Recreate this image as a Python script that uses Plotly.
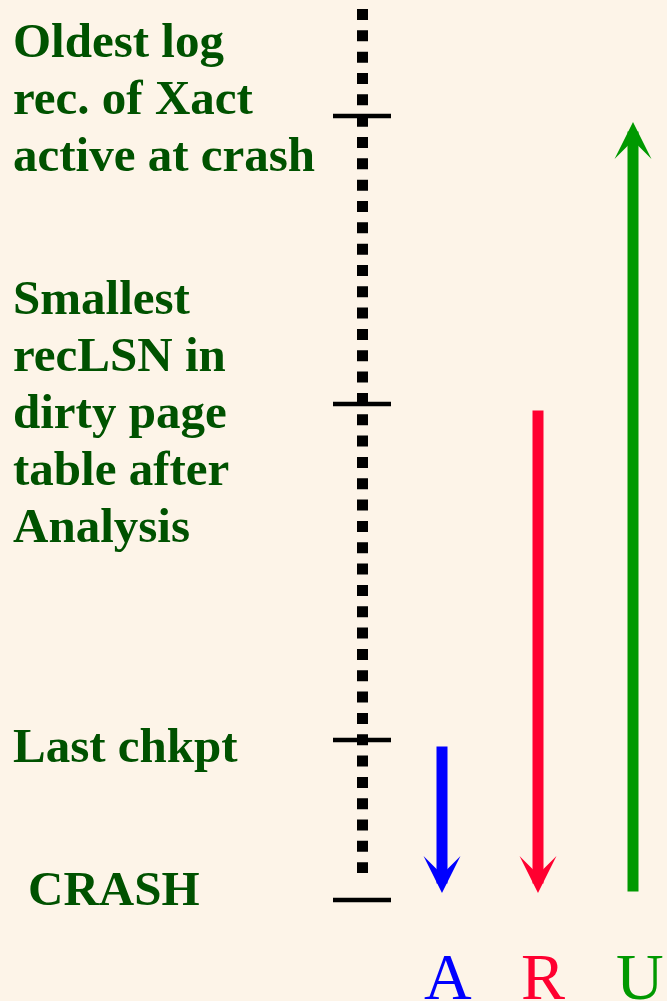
import plotly.graph_objects as go

# ---------------- data ----------------
level_names = ["Oldest log rec. of Xact active at crash",
               "Smallest recLSN in dirty page table after Analysis",
               "Last chkpt",
               "CRASH"]
level_pos = [116, 404, 740, 900]          # position on the log axis
label_lines = [["Oldest log", "rec. of Xact", "active at crash"],
               ["Smallest", "recLSN in", "dirty page", "table after", "Analysis"],
               ["Last chkpt"],
               ["CRASH"]]
label_first_baseline = [57, 314, 762, 905]
label_left = [11, 11, 11, 26]

log_start = 9
log_end = 873

phases = ["A", "R", "U"]
phase_x = [442, 538, 633]
phase_from = [745, 409, 893]
phase_to = [893, 893, 122]
phase_colors = ["#0000ff", "#ff0030", "#009900"]
phase_label_x = [448, 543, 640]

# ---------------- figure ----------------
W, H = 667, 1001
BG = "#fdf4e8"
TXT = "#005200"
FONT = "Liberation Serif"
SIZE = 49
LINE = 57

fig = go.Figure()

# dotted log line
fig.add_trace(go.Scatter(
    x=[362.5, 362.5], y=[log_start, log_end], mode="lines",
    line=dict(color="black", width=11, dash="11px,10.33px"),
    hoverinfo="skip", showlegend=False))

# tick marks at the log levels
tx, ty = [], []
for p in level_pos:
    tx += [333, 391, None]
    ty += [p, p, None]
fig.add_trace(go.Scatter(
    x=tx, y=ty, mode="lines", line=dict(color="black", width=4.5),
    hoverinfo="skip", showlegend=False))

annotations = []
# level labels
for lines, b0, xl in zip(label_lines, label_first_baseline, label_left):
    for i, t in enumerate(lines):
        base = b0 + i * LINE
        annotations.append(dict(
            x=xl, y=base - 0.3375 * SIZE, xref="x", yref="y",
            text="<b>%s</b>" % t, showarrow=False, xanchor="left", yanchor="middle",
            font=dict(family=FONT, size=SIZE, color=TXT)))

# phase arrows
for px, f, t, c in zip(phase_x, phase_from, phase_to, phase_colors):
    annotations.append(dict(
        x=px, y=t, ax=px, ay=f, xref="x", yref="y", axref="x", ayref="y",
        text="", showarrow=True, arrowhead=3, arrowsize=0.56, arrowwidth=11,
        arrowcolor=c, standoff=0, startstandoff=0))

# phase labels
LSIZE = 66
for name, lx, c in zip(phases, phase_label_x, phase_colors):
    annotations.append(dict(
        x=lx, y=999 - 0.3375 * LSIZE, xref="x", yref="y", text=name,
        showarrow=False, xanchor="center", yanchor="middle",
        font=dict(family=FONT, size=LSIZE, color=c)))

fig.update_layout(
    width=W, height=H, margin=dict(l=0, r=0, t=0, b=0),
    paper_bgcolor=BG, plot_bgcolor=BG,
    xaxis=dict(range=[0, W], visible=False, fixedrange=True),
    yaxis=dict(range=[H, 0], visible=False, fixedrange=True),
    annotations=annotations, showlegend=False)

fig.write_html(
    "out.html",
    config={"displayModeBar": False},
    post_script="document.body.style.margin='0';document.body.style.background='%s';"
                "document.body.style.overflow='hidden';" % BG)
